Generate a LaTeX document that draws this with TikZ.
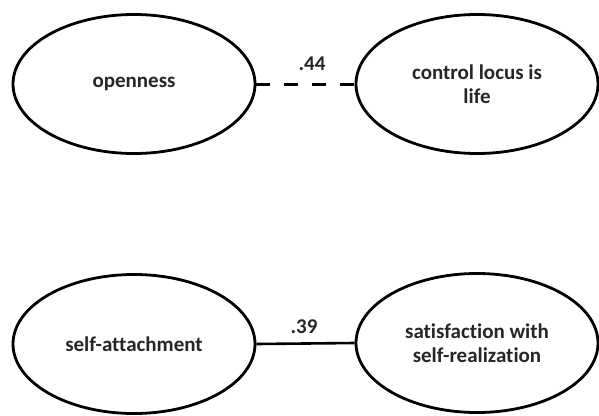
\documentclass[tikz,border=0pt]{standalone}
\usepackage{fontspec}
\setmainfont{Carlito}[Ligatures={NoCommon}]
\usetikzlibrary{shapes.geometric}
\begin{document}
\begin{tikzpicture}[x=1pt,y=-1pt,
  latent/.style={ellipse,draw=black,line width=2.8pt,inner sep=0pt,
    minimum width=242pt,minimum height=139pt,align=center,
    font=\fontsize{21}{24}\selectfont\bfseries,text=black!85},
  coef/.style={font=\fontsize{21}{24}\selectfont\bfseries,text=black!85,inner sep=0pt}]
\useasboundingbox (0,0) rectangle (599,415);
\node[latent] (open) at (134,84) {openness};
\node[latent] (ctrl) at (477,84) {control locus is\\life};
\node[latent] (selfa) at (134,344) {self-attachment};
\node[latent] (satis) at (477,343) {satisfaction with\\self-realization};
\draw[line width=3pt,dash pattern=on 14pt off 14pt] (open.east) -- (ctrl.west);
\draw[line width=2.6pt] (selfa.east) -- (satis.west);
\node[coef,anchor=base] (c1) at (312,70) {.44};
\node[coef,anchor=base] (c2) at (304,333) {.39};
\end{tikzpicture}
\end{document}
